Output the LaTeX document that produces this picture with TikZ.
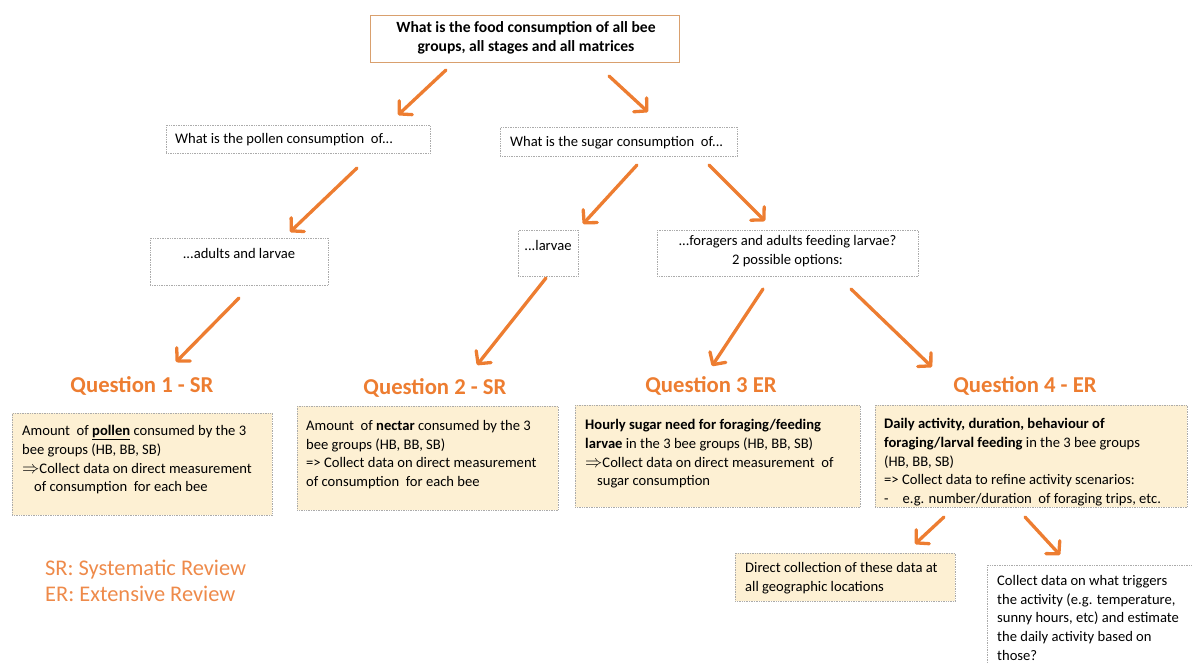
\documentclass[tikz,border=0pt]{standalone}
\usepackage{fontspec}
\setmainfont{Carlito}
\usetikzlibrary{arrows.meta}
\definecolor{org}{HTML}{ED7D31}
\definecolor{legorg}{HTML}{EE8A4A}
\definecolor{boxfill}{HTML}{FDF0D3}
\definecolor{dotgray}{HTML}{ABABAB}
\definecolor{topframe}{HTML}{D9A06E}
\newcommand{\bigimpl}{{\fontsize{18}{18}\selectfont$\Rightarrow$}}
\begin{document}
\begin{tikzpicture}[x=1pt,y=-1pt,
  frame/.style={draw=dotgray, densely dotted, line width=0.7pt, anchor=north west, inner sep=0pt},
  yframe/.style={frame, fill=boxfill},
  txt/.style={anchor=north west, align=left, inner sep=0pt, font=\fontsize{14.6}{18.8}\selectfont},
  ctxt/.style={anchor=north, align=center, inner sep=0pt, font=\fontsize{14.6}{19.5}\selectfont},
  qhead/.style={text=org, font=\bfseries\fontsize{22.7}{26}\selectfont, inner sep=0pt},
  legend/.style={text=legorg, anchor=north west, align=left, inner sep=0pt, font=\fontsize{22.4}{26}\selectfont},
  conn/.style={draw=org, line width=3.3pt, line cap=round,
    -{Straight Barb[length=9pt, width=19pt, line cap=round, line join=round]}}]
\useasboundingbox (0,0) rectangle (1192,662);

% top box
\node[draw=topframe, line width=0.9pt, anchor=north west, minimum width=309pt, minimum height=47pt, inner sep=0pt] (top) at (370,15) {};
\node[anchor=north, align=center, inner sep=0pt, font=\bfseries\fontsize{15.6}{19}\selectfont] (toptxt) at (526,21) {What is the food consumption of all bee\\groups, all stages and all matrices};

% second level
\node[frame, minimum width=264pt, minimum height=28pt] (pollen) at (166,125) {};
\node[txt] (pollentxt) at (175,133) {What is the pollen consumption\ \ of...};
\node[frame, minimum width=237pt, minimum height=29pt] (sugar) at (500,127) {};
\node[txt] (sugartxt) at (510,136) {What is the sugar consumption\ \ of...};

% third level
\node[frame, minimum width=178pt, minimum height=47pt] (adults) at (150,238) {};
\node[ctxt] (adultstxt) at (239,248) {...adults and larvae};
\node[frame, minimum width=60pt, minimum height=46pt] (larvae) at (518,230) {};
\node[ctxt] (larvaetxt) at (548,240) {...larvae};
\node[frame, minimum width=261pt, minimum height=46pt] (forag) at (657,230) {};
\node[ctxt] (foragtxt) at (787.5,235) {...foragers and adults feeding larvae?\\2 possible options:};

% question headers
\node[qhead] (q1) at (142,386) {Question 1 - SR};
\node[qhead] (q2) at (435,388) {Question 2 - SR};
\node[qhead] (q3) at (711,386) {Question 3 ER};
\node[qhead] (q4) at (1025,386) {Question 4 - ER};

% question boxes
\node[yframe, minimum width=260pt, minimum height=102pt] (b1) at (12,413) {};
\node[txt] (b1txt) at (22,425) {Amount\ \ of \textbf{\underline{pollen}} consumed by the 3\\bee groups (HB, BB, SB)\\\bigimpl Collect data on direct measurement\\\hspace*{12pt}of consumption\ \ for each bee};
\node[yframe, minimum width=261pt, minimum height=104pt] (b2) at (297,406) {};
\node[txt] (b2txt) at (306,420) {Amount\ \ of \textbf{nectar} consumed by the 3\\bee groups (HB, BB, SB)\\=> Collect data on direct measurement\\of consumption\ \ for each bee};
\node[yframe, minimum width=285pt, minimum height=102pt] (b3) at (575,405) {};
\node[txt] (b3txt) at (585,419) {\textbf{Hourly sugar need for foraging/feeding}\\\textbf{larvae} in the 3 bee groups (HB, BB, SB)\\\bigimpl Collect data on\ direct measurement\ \ of\\\hspace*{12pt}sugar consumption};
\node[yframe, minimum width=312pt, minimum height=102pt] (b4) at (875,405) {};
\node[txt] (b4txt) at (884,418) {\textbf{Daily activity, duration, behaviour of}\\\textbf{foraging/larval feeding} in the 3 bee groups\\(HB, BB, SB)\\=> Collect data to\ refine activity scenarios:\\-\hspace*{14pt}e.g. number/duration\ \ of foraging trips, etc.};

% bottom boxes
\node[yframe, minimum width=220pt, minimum height=48pt] (direct) at (735,553) {};
\node[txt] (directtxt) at (745,562) {Direct collection of these data at\\all geographic locations};
\node[frame, fill=white, minimum width=210pt, minimum height=102pt] (trig) at (987,565) {};
\node[txt] (trigtxt) at (997,575) {Collect data on\ what triggers\\the activity (e.g. temperature,\\sunny hours, etc) and estimate\\the daily activity based on\\those?};

% legend
\node[legend] (leg) at (45,560) {SR: Systematic Review\\ER: Extensive Review};

% arrow end points
\coordinate (a1s) at (446,70);  \coordinate (a1e) at (398,115);
\coordinate (a2s) at (609,76);  \coordinate (a2e) at (648,112);
\coordinate (a3s) at (357,168); \coordinate (a3e) at (290,232);
\coordinate (a4s) at (637,165); \coordinate (a4e) at (583,224);
\coordinate (a5s) at (709,165); \coordinate (a5e) at (765,221);
\coordinate (a6s) at (239,298); \coordinate (a6e) at (176,362);
\coordinate (a7s) at (546,278); \coordinate (a7e) at (477,365);
\coordinate (a8s) at (763,289); \coordinate (a8e) at (712,366);
\coordinate (a9s) at (851,289); \coordinate (a9e) at (932,367);
\coordinate (a10s) at (944,517); \coordinate (a10e) at (915,544);
\coordinate (a11s) at (1025,517); \coordinate (a11e) at (1060,555);

\draw[conn] (a1s) -- (a1e);
\draw[conn] (a2s) -- (a2e);
\draw[conn] (a3s) -- (a3e);
\draw[conn] (a4s) -- (a4e);
\draw[conn] (a5s) -- (a5e);
\draw[conn] (a6s) -- (a6e);
\draw[conn] (a7s) -- (a7e);
\draw[conn] (a8s) -- (a8e);
\draw[conn] (a9s) -- (a9e);
\draw[conn] (a10s) -- (a10e);
\draw[conn] (a11s) -- (a11e);
\end{tikzpicture}
\end{document}
